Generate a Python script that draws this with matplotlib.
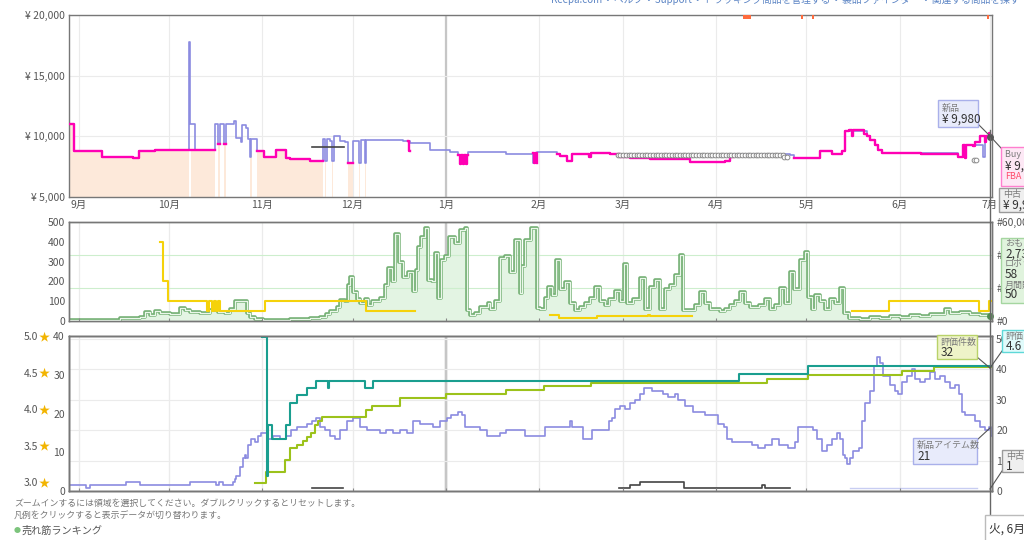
import numpy as np
import matplotlib
matplotlib.use("Agg")
import matplotlib.pyplot as plt
from matplotlib.patches import Rectangle
from matplotlib.lines import Line2D
from matplotlib.transforms import blended_transform_factory

plt.rcParams['font.family'] = ['Noto Sans CJK JP', 'DejaVu Sans']

W, H = 1024, 540
nan = float('nan')

# x axis = days counted from 1 Sep
month_days = [0, 30, 61, 91, 122, 153, 181, 212, 242, 273, 303]
month_labels = ["9月", "10月", "11月", "12月", "1月", "2月", "3月", "4月", "5月", "6月", "7月"]
year_day = 122

price_ticks = [5000, 10000, 15000, 20000]
sold_ticks = [0, 100, 200, 300, 400, 500]
rank_ticks = [0, 20000, 40000, 60000]
rank_labels = ["#0", "#", "#", "#60,000"]  # middle ones sit under the tooltip
count_ticks = [0, 10, 20, 30, 40]
offer_ticks = [0, 10, 20, 30, 40, 50]
star_ticks = [3.0, 3.5, 4.0, 4.5, 5.0]

# --- price panel (yen) ---
amazon_price = [(-3.3, 11000), (-1.7, 8800), (7.8, 8300), (18, 8200), (20, 8800), (25.3, 8900),
                (36.6, nan), (37.4, 8900), (45.2, nan), (46.3, 9400), (46.9, nan), (48.2, 9400),
                (48.9, nan), (56.9, 8800), (57.5, nan), (59.1, 8800), (61.5, 8300), (65.7, 8900),
                (68.8, 8200), (70.2, 8100), (75.2, 8150), (76.8, 8000), (81.1, nan), (81.7, 8000),
                (82.1, nan), (84.1, 8000), (84.5, nan), (89.5, 7800), (91.2, nan), (93.2, 7800),
                (93.6, nan), (95.0, 7800), (95.4, nan)]

new_price = [(-3.3, 11000), (-1.7, 8800), (7.8, 8300), (18, 8200), (20, 8800), (25.3, 8900),
             (36.6, 17800), (37.1, 11000), (38.6, 8900), (45.2, 11000), (46.3, 9400), (46.9, 11000),
             (48.2, 9400), (48.9, 11000), (51.5, 11300), (52.4, 9900), (53.8, 9500), (54.4, 10900),
             (55.6, 10700), (56.2, 9800), (56.8, 8300), (57.3, 9800), (59.1, 8800), (61.5, 8300),
             (65.7, 8900), (68.8, 8200), (70.2, 8100), (75.2, 8150), (76.8, 8000), (81.1, 9800),
             (81.8, 8000), (82.5, 9800), (83.5, 9600), (84.2, 8000), (84.7, 10000), (87, 9600),
             (88.5, 9500), (89.5, 7800), (91.2, 9600), (93.2, 7800), (93.9, 9700), (95, 7800),
             (95.6, 9700), (107.7, 9600), (110.1, 9450), (116.7, 8900), (123.4, 8750), (126.1, 8500),
             (129.4, 8750), (142.2, 8550), (151, 7800), (152.5, 8750), (155, 8700), (159, 8550),
             (160, 8400), (162.3, 8000), (164, 8550), (170.2, 8600), (176.6, 8550), (180, 8330),
             (183.2, 8250), (189.9, 8100), (203.2, 7900), (215, 8000), (216.5, 8300), (217.5, 8550),
             (236.4, 8500), (238, 8250), (246.4, 8800), (250.4, 8530), (253.7, 8830), (254.9, 10420),
             (262, 10000), (263.2, 9700), (264.8, 9300), (265.7, 8900), (267, 8600), (292.5, 8300),
             (294.2, 9300), (300.8, 8300), (301.3, 10000), (303.7, 10000)]

buybox_price = [(-3.3, 11000), (-1.7, 8800), (7.8, 8300), (18, 8200), (20, 8800), (25.3, 8900),
                (45.2, nan), (46.3, 9400), (46.9, nan), (48.2, 9400), (48.9, nan), (59.1, 8800),
                (61.5, 8300), (65.7, 8900), (68.8, 8200), (70.2, 8100), (75.2, 8150), (76.8, 8000),
                (81.1, nan), (89.5, 7800), (91.2, nan), (109.3, 9600), (109.7, 8800), (110.1, nan),
                (126.1, 8500), (126.6, 7750), (127.1, 8450), (127.6, 7750), (128.1, 8450), (128.6, 7750),
                (129.1, 8450), (129.4, nan), (151, 8600), (151.4, 7800), (151.8, 8600), (152.2, 7800),
                (152.5, nan), (159, 8550), (160, 8400), (162.3, 8000), (164, 8550), (169.5, 8300),
                (170.2, 8600), (176.6, 8550), (180, 8330), (183.2, 8250), (189.9, 8100), (203.2, 7900),
                (215, 8000), (216.5, 8300), (217.5, nan), (238, 8250), (246.4, 8800), (250.4, 8530),
                (253.7, 8830), (254.9, 10420), (256.2, 10500), (257, 10000), (257.6, 10500), (261, 10200),
                (262, 10000), (263.2, 9700), (264.8, 9300), (265.7, 8900), (267, 8600), (280, 8550),
                (292.5, 8300), (294.2, 9300), (294.8, 8200), (295.2, 9300), (297.5, 9200), (298.1, 9500),
                (299.6, 10000), (301.4, 9500), (301.8, 10000), (302.6, 10300), (303, 9980), (303.7, nan)]

used_price = [(77.5, 9100), (88.1, nan)]
collectible_price = 8470
collectible_span = (179.2, 234.8)
extra_circles = [(234.6, 8330), (235.6, 8330), (297.6, 8050), (298.5, 8050)]
out_of_stock = [(220.8, 2.6), (240.3, 0.5), (243.9, 0.5), (302.2, 0.6)]  # start day, length
last_new = (303, 9980)

# --- sales rank / monthly sold ---
sales_rank = [(-3.3, 400), (7, 600), (13.6, 1800), (20.3, 2400), (22, 5400), (23.6, 3600),
              (25.3, 6000), (27, 4800), (30.3, 4200), (33.6, 7800), (35.3, 6600), (37, 5400),
              (40.2, 4800), (43.6, 6600), (46.2, 5400), (48.6, 4800), (50.2, 7200), (52, 12000),
              (55.9, 4800), (56.9, 2400), (58.5, 1200), (61.2, 600), (70.2, 1000), (73.5, 1200),
              (76.8, 1800), (80.1, 2400), (82.1, 4200), (83.5, 6000), (85.8, 8400), (86.8, 12600),
              (88.5, 12000), (89.5, 21600), (90.1, 26400), (91.1, 17400), (92.4, 13200), (93.4, 10800),
              (95.1, 13200), (96.1, 9600), (97.4, 12000), (100.1, 13800), (101.8, 21600), (102.8, 32400),
              (104.1, 24000), (105.1, 52800), (106.4, 36000), (107.7, 26400), (109.4, 30000),
              (111.1, 18000), (112.1, 31200), (112.7, 45000), (113.7, 51000), (115, 56400),
              (116, 24600), (117.4, 24000), (118.4, 41400), (119.4, 13800), (120.4, 37200),
              (121.7, 39600), (123, 51000), (125, 47400), (126.7, 55200), (128.4, 56400), (129, 6600),
              (130, 3600), (131.7, 4800), (133.4, 8400), (136, 10800), (136.7, 7200), (138.3, 12000),
              (140, 38400), (141.7, 39600), (143.3, 30000), (145, 49200), (146.7, 16800), (147.3, 33600),
              (148.3, 49200), (150.5, 56400), (152.3, 7800), (153.3, 7200), (155, 13800), (156, 20400),
              (157.3, 15600), (158.6, 37200), (160, 19200), (161.6, 23400), (163.3, 10800), (165, 6600),
              (166.6, 8400), (168.3, 10800), (170, 13800), (171.6, 20400), (173.3, 12000), (175, 9600),
              (176.3, 13200), (178.3, 18000), (180, 12000), (181.2, 34800), (182.2, 10800),
              (184.2, 13200), (186.6, 25800), (188.2, 7200), (189.9, 20400), (191.6, 24600),
              (193.2, 7200), (194.9, 19200), (196.5, 21600), (198.2, 27600), (199.9, 40200),
              (200.9, 6600), (204.9, 9600), (206.5, 17400), (208.2, 10800), (209.8, 7200),
              (213.2, 6000), (214.8, 7200), (216.5, 9600), (218.2, 12000), (219.8, 17400),
              (221.5, 10800), (223.1, 8400), (226.1, 9600), (228.1, 13200), (229.8, 7200),
              (231.5, 9600), (233.1, 19800), (234.8, 10800), (236.4, 29400), (237.8, 19200),
              (239.8, 37200), (241.4, 42000), (242.4, 14400), (243.8, 7200), (244.8, 15600),
              (246.4, 12000), (248.1, 7200), (249.8, 13200), (251.4, 10800), (253.1, 19800),
              (254.4, 4800), (256.1, 1800), (259.7, 1400), (263, 2400), (266.4, 1800), (269.7, 3000),
              (273, 2200), (276.4, 3600), (279.7, 3000), (283, 4200), (288, 7200), (289.7, 4800),
              (293, 5400), (296.3, 4200), (299.6, 3600), (303, 2734), (303.7, 2734)]

monthly_sold = [(27, 400), (28, 200), (29.6, 100), (42.6, 50), (43.4, 100), (44.2, 50), (45, 100),
                (45.7, 50), (46.4, 100), (46.8, 50), (61.9, 100), (95.4, 50), (111.7, nan),
                (156.6, 30), (159.6, 15), (172.3, 25), (189.4, 30), (189.8, 25), (203.9, nan),
                (257, 50), (269.4, 100), (299.3, 50), (302.8, 100), (303.7, 100)]

# --- reviews / offer counts ---
review_count = [(58.5, 2), (62.3, 5), (68.5, 8), (70.2, 11), (72.4, 12), (74.5, 13), (76, 14),
                (77.3, 15), (78.5, 17), (79.5, 18), (80.8, 19), (95.4, 21), (97.4, 22), (106.8, 24),
                (122, 25), (142, 26), (154.6, 27), (170.3, 28), (228.7, 29), (242.6, 30),
                (273.7, 31), (284.3, 32), (303.7, 32)]

rating = [(61, 5.0), (62.4, 3.1), (63, 3.8), (64.1, 3.6), (68.8, 3.8), (70.2, 4.1), (72.4, 4.2),
          (75.7, 4.3), (78.8, 4.4), (82.9, 4.3), (83.3, 4.4), (95.3, 4.3), (97.9, 4.4),
          (219.7, 4.5), (242.4, 4.6), (303.7, 4.6)]

new_offers = [(-3.3, 2), (2.5, 1), (3.6, 2), (15.8, 3), (20.3, 2), (36.9, 3), (45.5, 2), (46.7, 3),
              (48, 2), (51.3, 3), (51.9, 4), (52.4, 5), (53.5, 8), (54.6, 11), (55.2, 12), (55.7, 11),
              (56.3, 15), (57.4, 17), (58.5, 16), (59.6, 18), (60.7, 19), (62.9, 17), (64.6, 18),
              (66.8, 17), (69, 18), (70.7, 20), (72.4, 21), (75.7, 22), (77.4, 23), (79, 24), (80.1, 21),
              (81.8, 20), (83.5, 18), (85.1, 17), (86.8, 20), (89, 23), (91, 24), (93.5, 21),
              (95.7, 20), (100.1, 19), (102.3, 20), (104.5, 19), (106.8, 20), (109, 19), (111.2, 23),
              (113.4, 22), (117.8, 21), (120, 23), (122.3, 24), (123.9, 25), (126.2, 26), (127.3, 25),
              (128.4, 21), (133.4, 20), (135.6, 18), (140, 19), (142.2, 20), (148.4, 18), (155.1, 21),
              (162.8, 21), (163.4, 23), (164, 21), (167.8, 17), (170.6, 20), (176.2, 23), (177.3, 24),
              (178.4, 27), (180, 28), (181.7, 27), (183.4, 29), (185, 30), (186.7, 32), (187.8, 34),
              (190.6, 33), (194.4, 32), (196.1, 31), (198.3, 32), (199.4, 30), (201.6, 28),
              (204.4, 26), (208.3, 25), (212.7, 22), (214.4, 21), (215.5, 17), (217.2, 16),
              (223.8, 15), (226, 14), (228.3, 15), (230.5, 17), (232.7, 15), (236, 14), (238.2, 16),
              (239.3, 21), (244.3, 20), (245.4, 17), (247.1, 13), (248.8, 15), (250.4, 17),
              (252.1, 19), (253.2, 17), (254, 12), (254.9, 11), (255.4, 9), (256.5, 11), (257.6, 13),
              (259.3, 14), (260.4, 23), (261.5, 29), (263.2, 33), (264.3, 41), (265.4, 44),
              (266.5, 42), (267.6, 38), (269.8, 35), (271.5, 33), (272.6, 32), (273.7, 36),
              (275.4, 38), (277, 40), (278.1, 37), (279.8, 36), (281.5, 37), (283.1, 39), (284.8, 37),
              (286.5, 38), (288.1, 36), (289.8, 34), (291.5, 35), (292.6, 32), (293.7, 26),
              (294.8, 25), (298.1, 23), (299.8, 21), (301.4, 20), (302.8, 21), (303.3, 18), (303.7, 18)]

used_offers = [(77.4, 1), (87.9, nan), (179.5, 1), (183.4, 2), (186.7, 3), (201.1, 1), (227.1, 2),
               (228.3, 1), (236.6, nan)]
refurb_offers = [(256.5, 1), (298.7, nan)]


def xy(pts):
    a = np.array(pts, dtype=float)
    return a[:, 0], a[:, 1]


def fpos(x0, y0, x1, y1):
    return [x0 / W, 1 - y1 / H, (x1 - x0) / W, (y1 - y0) / H]


def base(ax, grid_ax=None):
    g = grid_ax if grid_ax is not None else ax
    ax.set_xlim(-3.3, 303.7)
    ax.set_xticks(month_days)
    for d in month_days:
        g.axvline(d, color='#ebebeb', lw=0.8, zorder=0)
    g.axvline(year_day, color='#c6c6c6', lw=1.6, zorder=0.5)
    for s in ax.spines.values():
        s.set_color('#777')
        s.set_linewidth(1)
    ax.tick_params(labelsize=7.5, colors='#555', length=0, pad=3)


fig = plt.figure(figsize=(W / 100, H / 100), dpi=100)
fig.patch.set_facecolor('white')

# ---------------- price panel ----------------
ax1 = fig.add_axes(fpos(69, 15, 992, 197))
base(ax1)
ax1.set_ylim(5000, 20000)
ax1.set_yticks(price_ticks)
ax1.set_yticklabels([f"¥ {v:,}" for v in price_ticks])
ax1.set_xticklabels(month_labels)
ax1.tick_params(axis='x', pad=2)
ax1.grid(axis='y', color='#ebebeb', lw=0.8)
ax1.set_axisbelow(True)

ax_, ay_ = xy(amazon_price)
ax1.bar(ax_[:-1], ay_[:-1] - 5000, width=np.diff(ax_), bottom=5000, align='edge',
        color='#fde9da', linewidth=0, zorder=1)
nx, ny = xy(new_price)
ax1.plot(nx, ny, drawstyle='steps-post', color='#8b8be0', lw=1.2, zorder=2)
ux, uy = xy(used_price)
ax1.plot(ux, uy, drawstyle='steps-post', color='#444', lw=1.2, zorder=2)
bx, by = xy(buybox_price)
ax1.plot(bx, by, drawstyle='steps-post', color='#ff00b4', lw=1.7, zorder=3)
cdays = np.arange(collectible_span[0], collectible_span[1], 0.9)
ax1.plot(cdays, np.full(len(cdays), collectible_price), 'o', ms=3.4, mfc='white',
         mec='#8a8a8a', mew=0.7, zorder=4)
ex, ey = xy(extra_circles)
ax1.plot(ex, ey, 'o', ms=3.4, mfc='white', mec='#8a8a8a', mew=0.7, zorder=4)
for d, w in out_of_stock:
    ax1.bar(d, 330, width=w, bottom=19700, align='edge', color='#ff6b3d', linewidth=0,
            clip_on=False, zorder=5)
ax1.plot(*last_new, 'o', ms=4, color='#555', zorder=6, clip_on=False)

# ---------------- rank panel ----------------
ax2 = fig.add_axes(fpos(69, 222, 992, 321))
ax2r = ax2.twinx()
base(ax2, ax2r)
base(ax2r, ax2r)
ax2.set_zorder(2)
ax2.patch.set_visible(False)
ax2r.set_zorder(1)
ax2.set_ylim(0, 500)
ax2.set_yticks(sold_ticks)
ax2.set_xticklabels([])
ax2r.set_ylim(0, 60000)
ax2r.set_yticks(rank_ticks)
ax2r.set_yticklabels(rank_labels)
ax2r.grid(axis='y', color='#cdeecd', lw=0.8)
ax2.tick_params(axis='x', length=2.5, direction='in', color='#888')

rx, ry = xy(sales_rank)
ax2r.fill_between(rx, 0, ry, step='post', color='#e3f4e3', lw=0, zorder=1)
ax2r.plot(rx, ry, drawstyle='steps-post', color='#74b074', lw=2.6, zorder=2)
ax2r.plot(rx, ry, drawstyle='steps-post', color='#eaf7ea', lw=0.9, zorder=3)
ax2r.plot(303.2, 2734, 'o', ms=4, color='#4f8f4f', zorder=4, clip_on=False)
sx, sy = xy(monthly_sold)
ax2.plot(sx, sy, drawstyle='steps-post', color='#f5d20a', lw=1.5, zorder=3)

# ---------------- review / offers panel ----------------
ax3 = fig.add_axes(fpos(69, 336, 992, 491))
ax3r = ax3.twinx()
ax3s = ax3.twinx()
base(ax3, ax3r)
base(ax3r, ax3r)
base(ax3s, ax3r)
ax3r.set_zorder(1)
ax3.set_zorder(2)
ax3s.set_zorder(3)
ax3.patch.set_visible(False)
ax3s.patch.set_visible(False)
ax3.set_ylim(0, 40)
ax3.set_yticks(count_ticks)
ax3.set_xticklabels([])
ax3.tick_params(axis='x', length=2.5, direction='in', color='#888')
ax3r.set_ylim(0, 51)
ax3r.set_yticks(offer_ticks)
ax3r.grid(axis='y', color='#ebebeb', lw=0.8)
ax3s.set_ylim(5 - 154 / 73, 5.014)
ax3s.set_yticks([])

ox, oy = xy(new_offers)
ax3r.plot(ox, oy, drawstyle='steps-post', color='#8b8be0', lw=1.2, zorder=2)
uox, uoy = xy(used_offers)
ax3r.plot(uox, uoy, drawstyle='steps-post', color='#444', lw=1.2, zorder=2)
fx, fy = xy(refurb_offers)
ax3r.plot(fx, fy, drawstyle='steps-post', color='#c8cdf2', lw=1.0, zorder=2)
vx, vy = xy(review_count)
ax3.plot(vx, vy, drawstyle='steps-post', color='#9cc21b', lw=1.5, zorder=2)
tx, ty = xy(rating)
ax3s.plot(tx, ty, drawstyle='steps-post', color='#1a9e8f', lw=1.5, zorder=2)

star_tr = blended_transform_factory(fig.transFigure, ax3s.transData)
for r in star_ticks:
    fig.text(38 / W, r, f"{r:.1f}", transform=star_tr, ha='right', va='center',
             size=7.5, color='#555')
    fig.text(44 / W, r, "★", transform=star_tr, ha='center', va='center',
             size=8, color='#f2b400')


# ---------------- tooltips / boxes ----------------
def box(x0, y0, x1, y1, fc, ec, rows):
    fig.add_artist(Rectangle((x0 / W, 1 - y1 / H), (x1 - x0) / W, (y1 - y0) / H,
                             transform=fig.transFigure, fc=fc, ec=ec, lw=1, zorder=5))
    for ty_, txt, size, color in rows:
        fig.text((x0 + 4) / W, 1 - ty_ / H, txt, size=size, color=color, va='center', zorder=6)


def link(x0, y0, x1, y1):
    fig.add_artist(Line2D([x0 / W, x1 / W], [1 - y0 / H, 1 - y1 / H], transform=fig.transFigure,
                          color='#555', lw=0.8, zorder=4))


# crosshair
fig.add_artist(Line2D([990 / W, 990 / W], [1 - 130 / H, 1 - 515 / H], transform=fig.transFigure,
                      color='#666', lw=1, zorder=4))

link(976, 122, 990, 136)
link(990, 136, 1001, 148)
link(977, 357, 990, 368)
link(990, 368, 1002, 351)
link(977, 440, 990, 428)
link(990, 489, 1002, 471)

label_c, value_c = '#7a7a7a', '#333'
box(938, 100, 978, 127, '#e8ebfb', '#a9b0ea',
    [(108, "新品", 6.5, label_c), (119, "¥ 9,980", 8.5, value_c)])
box(1001, 147, 1040, 186, '#fde8f5', '#ff7fcf',
    [(155, "Buy Box", 6.5, label_c), (166, "¥ 9,980", 8.5, value_c), (177, "FBA", 6.5, '#ff4d6d')])
box(999, 188, 1040, 212, '#efefef', '#9a9a9a',
    [(195, "中古", 6.5, label_c), (205, "¥ 9,980", 8.5, value_c)])
box(1001, 238, 1040, 303, '#e0f3dd', '#a5d6a0',
    [(244, "おもちゃ", 6.5, label_c), (254, "2,734", 8.5, value_c),
     (264, "ロボット", 6.5, label_c), (275, "58", 8.5, value_c),
     (285, "月間販売数", 6.5, label_c), (295, "50", 8.5, value_c)])
box(937, 335, 977, 359, '#eef3c8', '#b9d26a',
    [(342, "評価件数", 6.5, label_c), (352, "32", 8.5, value_c)])
box(1002, 330, 1040, 352, '#e0fbfb', '#5ed8d8',
    [(336, "評価", 6.5, label_c), (346, "4.6", 8.5, value_c)])
box(913, 438, 977, 464, '#e8ebfb', '#a9b0ea',
    [(445, "新品アイテム数", 6.5, label_c), (456, "21", 8.5, value_c)])
box(1002, 450, 1040, 472, '#efefef', '#9a9a9a',
    [(456, "中古アイテム数", 6.5, label_c), (466, "1", 8.5, value_c)])
box(985, 515, 1040, 550, 'white', '#bbbbbb',
    [(529, "火, 6月 27日", 8.5, value_c)])

# header (cut off at top) and help texts
fig.text(1020 / W, 1.0, "Keepa.com  •  ヘルプ  •  Support  •  トラッキング商品を管理する  •  製品ファインダー  •  関連する商品を探す",
         ha='right', va='center', size=7, color='#5b84c4')
fig.text(14 / W, 1 - 503 / H, "ズームインするには領域を選択してください。ダブルクリックするとリセットします。",
         size=6.4, color='#777', va='center')
fig.text(14 / W, 1 - 516 / H, "凡例をクリックすると表示データが切り替わります。",
         size=6.4, color='#777', va='center')
fig.text(14 / W, 1 - 531 / H, "●", size=5, color='#7cc47c', va='center')
fig.text(22 / W, 1 - 531 / H, "売れ筋ランキング", size=7.3, color='#555', va='center')

fig.savefig("out.png", dpi=100)
